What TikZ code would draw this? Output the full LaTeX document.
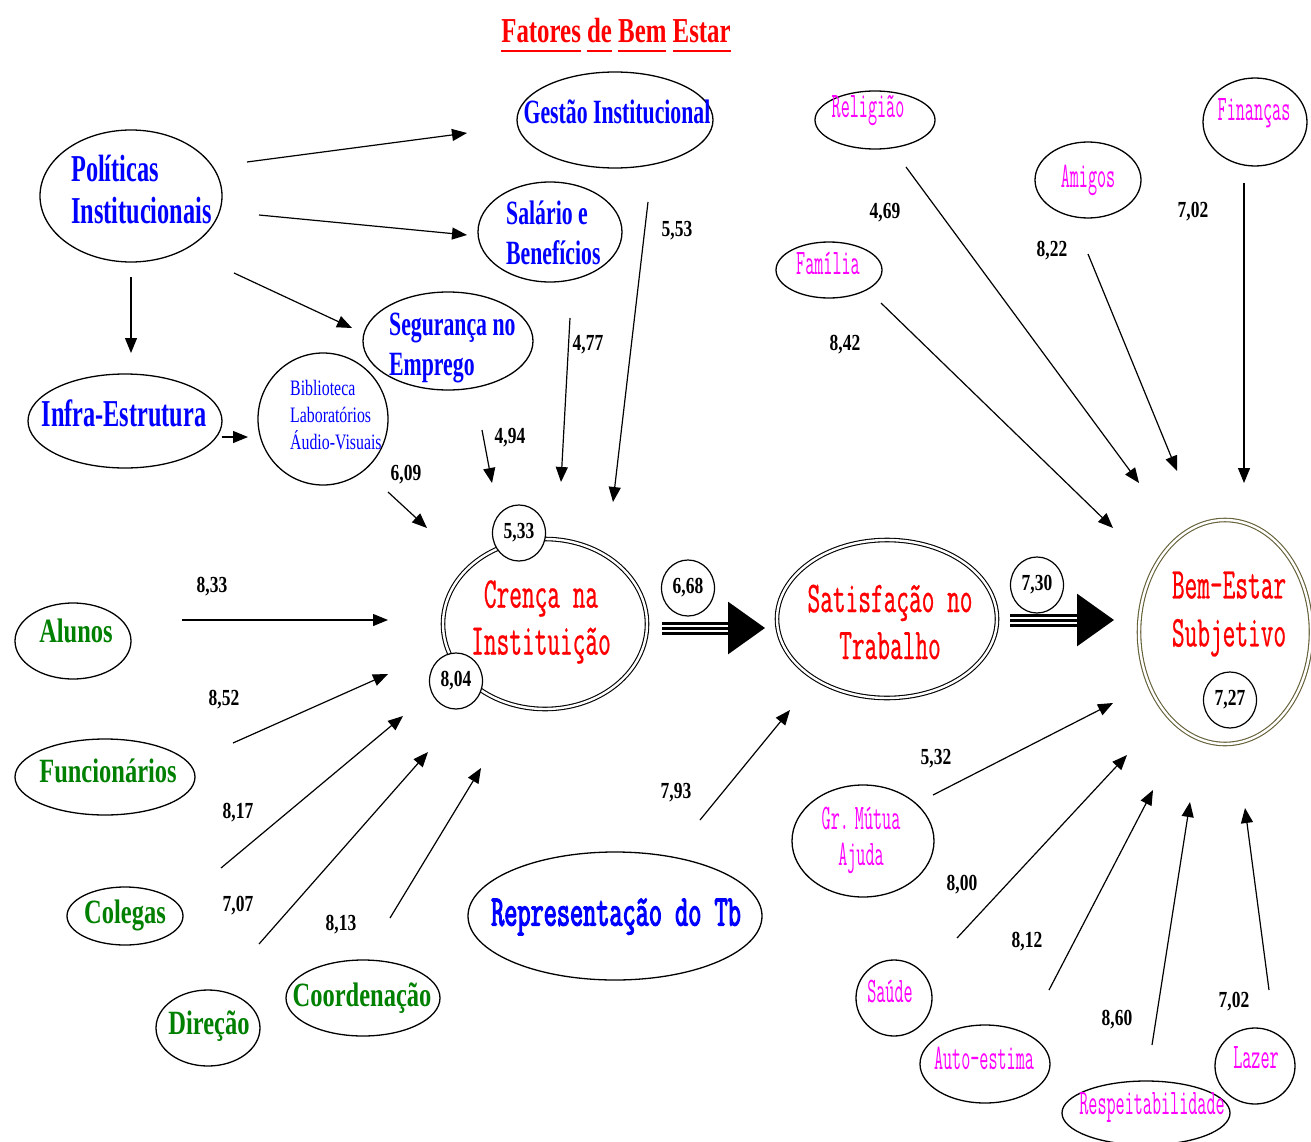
\documentclass[tikz,border=0pt]{standalone}
\usepackage{fontspec}
\usetikzlibrary{arrows.meta,shapes.geometric}
\setmainfont{Liberation Serif}
\newfontfamily\fblue{Liberation Serif}[FakeStretch=0.64]
\newfontfamily\fgreen{Liberation Serif}[FakeStretch=0.72]
\newfontfamily\fnum{Liberation Serif}[FakeStretch=0.76]
\newfontfamily\fsmall{Liberation Serif}[FakeStretch=0.72]
\newfontfamily\ftitle{Liberation Serif}[FakeStretch=0.71]
\newfontfamily\fcour{Latin Modern Mono}[FakeStretch=0.56, FakeBold=0.6]
\newfontfamily\fcourn{Latin Modern Mono}[FakeStretch=0.49]
\newfontfamily\frepr{Latin Modern Mono}[FakeStretch=0.58, FakeBold=2.5]
\definecolor{pblue}{RGB}{0,0,255}
\definecolor{pgreen}{RGB}{0,128,0}
\definecolor{pred}{RGB}{255,0,0}
\definecolor{pmag}{RGB}{255,0,255}
\definecolor{polive}{RGB}{100,95,55}
% underline each word of the heading with a rule of fixed depth
\newcommand\ulword[1]{\setbox0\hbox{#1}\rlap{\rule[-9pt]{\wd0}{2.2pt}}\box0\relax}
\tikzset{
  shp/.style={ellipse, draw, line width=1.3pt, fill=white, inner sep=0pt},
  dbl/.style={ellipse, draw, double, double distance=2.4pt, line width=1.1pt, inner sep=0pt},
  numc/.style={ellipse, draw, line width=1.2pt, fill=white, inner sep=0pt,
    minimum width=53pt, minimum height=56pt, font=\fnum\bfseries\fontsize{23}{23}\selectfont},
  num/.style={inner sep=0pt, font=\fnum\bfseries\fontsize{23}{23}\selectfont},
  bl/.style={text=pblue, inner sep=0pt, font=\fblue\bfseries\fontsize{34}{40}\selectfont},
  blbig/.style={text=pblue, inner sep=0pt, font=\fblue\bfseries\fontsize{38}{42}\selectfont},
  blsmall/.style={text=pblue, inner sep=0pt, font=\fsmall\fontsize{22}{27}\selectfont},
  gr/.style={text=pgreen, inner sep=0pt, font=\fgreen\bfseries\fontsize{34}{38}\selectfont},
  rd/.style={text=pred, inner sep=0pt, align=center, font=\fcour\fontsize{44}{47}\selectfont},
  mg/.style={text=pmag, inner sep=0pt, align=center, font=\fcourn\fontsize{36}{36}\selectfont},
  ttl/.style={text=pred, inner sep=0pt, font=\ftitle\bfseries\fontsize{35}{35}\selectfont},
  arr/.style={-{Triangle[length=15pt,width=12pt]}, line width=1.2pt},
  bar/.style={line width=3pt},
  bigtip/.style={-{Triangle[length=37pt,width=52pt]}, line width=3pt},
}
\begin{document}
\begin{tikzpicture}[x=1pt, y=-1pt]
\useasboundingbox[fill=white] (0,0) rectangle (1311,1142);

% heading
\node[ttl, anchor=base] (title) at (616,43) {\ulword{Fatores} \ulword{de} \ulword{Bem} \ulword{Estar}};

% institutional factors
\node[shp, minimum width=182pt, minimum height=132pt] (pol) at (131,196) {};
\node[blbig, align=left, anchor=west] (pol-t) at (71,190) {Políticas\\Institucionais};
\node[shp, minimum width=194pt, minimum height=94pt] (infra) at (125,421) {};
\node[blbig] (infra-t) at (124,413) {Infra-Estrutura};
\node[shp, minimum width=130pt, minimum height=132pt] (bib) at (323,419) {};
\node[blsmall, align=left, anchor=west] (bib-t) at (290,415) {Biblioteca\\Laboratórios\\Áudio-Visuais};
\node[shp, minimum width=170pt, minimum height=98pt] (seg) at (448,341) {};
\node[bl, align=left, anchor=west] (seg-t) at (389,348) {Segurança no\\Emprego};
\node[shp, minimum width=144pt, minimum height=100pt] (sal) at (550,232) {};
\node[bl, align=left, anchor=west] (sal-t) at (506,233) {Salário e\\Benefícios};
\node[shp, minimum width=196pt, minimum height=96pt] (gest) at (615,120) {};
\node[bl] (gest-t) at (617,112) {Gestão Institucional};

% central constructs
\node[dbl, minimum width=204pt, minimum height=170pt] (cren) at (545,624) {};
\node[rd] (cren-t) at (541,622) {Crença na\\Instituição};
\node[dbl, minimum width=220pt, minimum height=158pt] (satis) at (887,619) {};
\node[rd] (satis-t) at (890,622) {Satisfação no\\Trabalho};
\node[dbl, draw=polive, minimum width=172pt, minimum height=224pt] (bes) at (1225,632) {};
\node[rd, font=\fcour\fontsize{44}{48}\selectfont] (bes-t) at (1229,614) {Bem-Estar\\Subjetivo};
\node[shp, minimum width=294pt, minimum height=128pt] (repr) at (615,916) {};
\node[text=pblue, inner sep=0pt, font=\frepr\fontsize{44}{44}\selectfont] (repr-t) at (616,917) {Representação do Tb};

% school actors
\node[shp, minimum width=116pt, minimum height=76pt] (alun) at (73,641) {};
\node[gr] (alun-t) at (76,631) {Alunos};
\node[shp, minimum width=180pt, minimum height=76pt] (func) at (105,777) {};
\node[gr] (func-t) at (108,771) {Funcionários};
\node[shp, minimum width=116pt, minimum height=58pt] (coleg) at (125,916) {};
\node[gr] (coleg-t) at (125,915) {Colegas};
\node[shp, minimum width=104pt, minimum height=76pt] (direc) at (208,1028) {};
\node[gr] (direc-t) at (209,1026) {Direção};
\node[shp, minimum width=154pt, minimum height=76pt] (coord) at (363,998) {};
\node[gr] (coord-t) at (362,998) {Coordenação};

% personal life factors
\node[shp, minimum width=120pt, minimum height=58pt] (relig) at (875,120) {};
\node[mg] (relig-t) at (868,111) {Religião};
\node[shp, minimum width=106pt, minimum height=76pt] (amig) at (1088,180) {};
\node[mg] (amig-t) at (1088,180) {Amigos};
\node[shp, minimum width=104pt, minimum height=88pt] (finan) at (1255,122) {};
\node[mg] (finan-t) at (1254,113) {Finanças};
\node[shp, minimum width=106pt, minimum height=56pt] (famil) at (829,270) {};
\node[mg] (famil-t) at (828,263) {Família};
\node[shp, minimum width=142pt, minimum height=112pt] (grm) at (863,841) {};
\node[mg] (grm-t) at (861,840) {Gr.\,Mútua\\Ajuda};
\node[shp, minimum width=76pt, minimum height=76pt] (saude) at (894,998) {};
\node[mg] (saude-t) at (890,991) {Saúde};
\node[shp, minimum width=130pt, minimum height=78pt] (auto) at (985,1064) {};
\node[mg] (auto-t) at (984,1058) {Auto-estima};
\node[shp, minimum width=168pt, minimum height=64pt] (resp) at (1146,1113) {};
\node[mg] (resp-t) at (1152,1107) {Respeitabilidade};
\node[shp, minimum width=80pt, minimum height=76pt] (lazer) at (1255,1066) {};
\node[mg] (lazer-t) at (1256,1058) {Lazer};

% connector ends
\coordinate (pol-a) at (247,162);   \coordinate (gest-a) at (467,133);
\coordinate (pol-b) at (259,215);   \coordinate (sal-a) at (467,235);
\coordinate (pol-c) at (234,273);   \coordinate (seg-a) at (352,328);
\coordinate (pol-d) at (131,277);   \coordinate (infra-a) at (131,353);
\coordinate (infra-b) at (222,437); \coordinate (bib-a) at (248,437);
\coordinate (bib-b) at (388,492);   \coordinate (cren-a) at (427,528);
\coordinate (gest-b) at (648,202);  \coordinate (cren-b) at (613,502);
\coordinate (sal-b) at (570,318);   \coordinate (cren-c) at (561,482);
\coordinate (seg-b) at (482,430);   \coordinate (cren-d) at (492,483);
\coordinate (alun-a) at (182,620);  \coordinate (cren-e) at (388,620);
\coordinate (func-a) at (233,743);  \coordinate (cren-f) at (388,674);
\coordinate (coleg-a) at (221,868); \coordinate (cren-g) at (403,716);
\coordinate (direc-a) at (259,944); \coordinate (cren-h) at (428,752);
\coordinate (coord-a) at (390,918); \coordinate (cren-i) at (481,768);
\coordinate (repr-a) at (700,820);  \coordinate (satis-a) at (790,710);
\coordinate (relig-a) at (906,167); \coordinate (bes-a) at (1139,483);
\coordinate (famil-a) at (881,303); \coordinate (bes-b) at (1113,528);
\coordinate (amig-a) at (1088,254); \coordinate (bes-c) at (1177,471);
\coordinate (finan-a) at (1244,183);\coordinate (bes-d) at (1244,483);
\coordinate (grm-a) at (933,795);   \coordinate (bes-e) at (1113,703);
\coordinate (saude-a) at (957,938); \coordinate (bes-f) at (1127,755);
\coordinate (auto-a) at (1049,990); \coordinate (bes-g) at (1153,790);
\coordinate (resp-a) at (1152,1045);\coordinate (bes-h) at (1190,802);
\coordinate (lazer-a) at (1269,990);\coordinate (bes-i) at (1245,808);
\coordinate (cren-o) at (662,628);  \coordinate (satis-i) at (765,628);
\coordinate (satis-o) at (1010,620);\coordinate (bes-in) at (1114,620);

% influence arrows
\draw[arr] (pol-a) -- (gest-a);
\draw[arr] (pol-b) -- (sal-a);
\draw[arr] (pol-c) -- (seg-a);
\draw[arr] (pol-d) -- (infra-a);
\draw[arr] (infra-b) -- (bib-a);
\draw[arr] (bib-b) -- (cren-a);
\draw[arr] (gest-b) -- (cren-b);
\draw[arr] (sal-b) -- (cren-c);
\draw[arr] (seg-b) -- (cren-d);
\draw[arr] (alun-a) -- (cren-e);
\draw[arr] (func-a) -- (cren-f);
\draw[arr] (coleg-a) -- (cren-g);
\draw[arr] (direc-a) -- (cren-h);
\draw[arr] (coord-a) -- (cren-i);
\draw[arr] (repr-a) -- (satis-a);
\draw[arr] (relig-a) -- (bes-a);
\draw[arr] (famil-a) -- (bes-b);
\draw[arr] (amig-a) -- (bes-c);
\draw[arr] (finan-a) -- (bes-d);
\draw[arr] (grm-a) -- (bes-e);
\draw[arr] (saude-a) -- (bes-f);
\draw[arr] (auto-a) -- (bes-g);
\draw[arr] (resp-a) -- (bes-h);
\draw[arr] (lazer-a) -- (bes-i);

% triple-line arrows between the central constructs
\draw[bigtip] (cren-o) -- (satis-i);
\draw[bar] ([yshift=-5pt]cren-o) -- ([yshift=-5pt,xshift=-30pt]satis-i);
\draw[bar] ([yshift=5pt]cren-o) -- ([yshift=5pt,xshift=-30pt]satis-i);
\draw[bigtip] (satis-o) -- (bes-in);
\draw[bar] ([yshift=-5pt]satis-o) -- ([yshift=-5pt,xshift=-30pt]bes-in);
\draw[bar] ([yshift=5pt]satis-o) -- ([yshift=5pt,xshift=-30pt]bes-in);

% mean scores in circles
\node[numc] (n533) at (519,533) {5,33};
\node[numc] (n804) at (456,681) {8,04};
\node[numc] (n668) at (688,588) {6,68};
\node[numc] (n730) at (1037,585) {7,30};
\node[numc] (n727) at (1230,700) {7,27};

% mean scores on the arrows
\node[num] (v553) at (677,231) {5,53};
\node[num] (v477) at (588,345) {4,77};
\node[num] (v494) at (510,438) {4,94};
\node[num] (v609) at (406,475) {6,09};
\node[num] (v833) at (212,587) {8,33};
\node[num] (v852) at (224,700) {8,52};
\node[num] (v817) at (238,813) {8,17};
\node[num] (v707) at (238,906) {7,07};
\node[num] (v813) at (341,925) {8,13};
\node[num] (v793) at (676,793) {7,93};
\node[num] (v469) at (885,213) {4,69};
\node[num] (v822) at (1052,251) {8,22};
\node[num] (v702a) at (1193,212) {7,02};
\node[num] (v842) at (845,345) {8,42};
\node[num] (v532) at (936,759) {5,32};
\node[num] (v800) at (962,885) {8,00};
\node[num] (v812) at (1027,942) {8,12};
\node[num] (v860) at (1117,1020) {8,60};
\node[num] (v702b) at (1234,1002) {7,02};
\end{tikzpicture}
\end{document}
